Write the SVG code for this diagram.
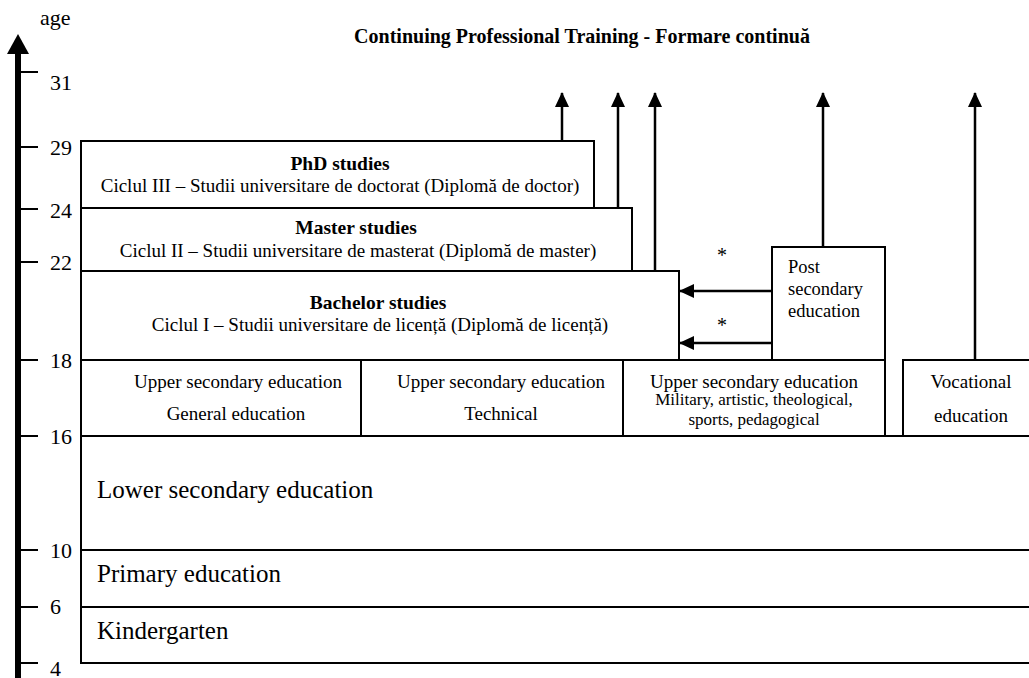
<svg xmlns="http://www.w3.org/2000/svg" width="1029" height="678" viewBox="0 0 1029 678" font-family="Liberation Serif, Times New Roman, DejaVu Serif, serif">
<style>
text{fill:#000}
.b{font-weight:bold}
.box{fill:none;stroke:#000;stroke-width:2}
.ln{stroke:#000;stroke-width:2.5;fill:none}
.tick{stroke:#000;stroke-width:2}
.num{font-size:22px}
.sub{font-size:19px}
.hd{font-size:19.5px;font-weight:bold}
.up{font-size:19px}
.small{font-size:17px}
.ps{font-size:18.5px}
.big{font-size:25px}
.mid{text-anchor:middle}
</style>
<defs>
<marker id="ah" viewBox="0 0 15 14" refX="14" refY="7" markerWidth="15" markerHeight="14" markerUnits="userSpaceOnUse" orient="auto">
<path d="M0,0 L15,7 L0,14 Z" fill="#000"/>
</marker>
</defs>

<g id="axis">
<line x1="18" y1="50" x2="18" y2="678" stroke="#000" stroke-width="6"/>
<path d="M7,54 L18,34 L29,54 Z" fill="#000"/>
<text x="40" y="25" font-size="22">age</text>
<g class="tick">
<line x1="21" y1="72" x2="38" y2="72"/>
<line x1="21" y1="147" x2="38" y2="147"/>
<line x1="21" y1="209" x2="38" y2="209"/>
<line x1="21" y1="262" x2="38" y2="262"/>
<line x1="21" y1="360" x2="38" y2="360"/>
<line x1="21" y1="436" x2="38" y2="436"/>
<line x1="21" y1="550" x2="38" y2="550"/>
<line x1="21" y1="607" x2="38" y2="607"/>
<line x1="21" y1="663" x2="38" y2="663"/>
</g>
<g class="num">
<text x="50" y="90">31</text>
<text x="50" y="155">29</text>
<text x="50" y="218">24</text>
<text x="50" y="270">22</text>
<text x="50" y="368">18</text>
<text x="50" y="444">16</text>
<text x="50" y="558">10</text>
<text x="50" y="614">6</text>
<text x="50" y="676">4</text>
</g>
</g>

<text class="b" x="582" y="43" font-size="20" text-anchor="middle">Continuing Professional Training - Formare continuă</text>

<g id="phd">
<rect class="box" x="81" y="141" width="513" height="67"/>
<text class="hd mid" x="340" y="170">PhD studies</text>
<text class="sub mid" x="340" y="192">Ciclul III – Studii universitare de doctorat (Diplomă de doctor)</text>
</g>
<g id="master">
<rect class="box" x="81" y="208" width="551" height="63"/>
<text class="hd mid" x="356" y="234">Master studies</text>
<text class="sub mid" x="358" y="257">Ciclul II – Studii universitare de masterat (Diplomă de master)</text>
</g>
<g id="bachelor">
<rect class="box" x="81" y="271" width="598" height="89"/>
<text class="hd mid" x="378" y="309">Bachelor studies</text>
<text class="sub mid" x="380" y="331">Ciclul I – Studii universitare de licență (Diplomă de licență)</text>
</g>
<g id="postsec">
<rect class="box" x="772" y="247" width="113" height="113"/>
<text class="ps" x="788" y="273">Post</text>
<text class="ps" x="788" y="295">secondary</text>
<text class="ps" x="788" y="317">education</text>
</g>
<g id="upper-general">
<rect class="box" x="81" y="360" width="280" height="76"/>
<text class="up mid" x="238" y="388">Upper secondary education</text>
<text class="up mid" x="236" y="420">General education</text>
</g>
<g id="upper-technical">
<rect class="box" x="361" y="360" width="262" height="76"/>
<text class="up mid" x="501" y="388">Upper secondary education</text>
<text class="up mid" x="501" y="420">Technical</text>
</g>
<g id="upper-other">
<rect class="box" x="623" y="360" width="262" height="76"/>
<text class="up mid" x="754" y="388">Upper secondary education</text>
<text class="small mid" x="754" y="405">Military, artistic, theological,</text>
<text class="small mid" x="754" y="425">sports, pedagogical</text>
</g>
<g id="vocational">
<rect class="box" x="903" y="360" width="131" height="76"/>
<text class="up mid" x="971" y="388">Vocational</text>
<text class="up mid" x="971" y="422">education</text>
</g>
<g id="lower">
<rect class="box" x="81" y="436" width="953" height="114"/>
<text class="big" x="97" y="498">Lower secondary education</text>
</g>
<g id="primary">
<rect class="box" x="81" y="550" width="953" height="57"/>
<text class="big" x="97" y="582">Primary education</text>
</g>
<g id="kindergarten">
<rect class="box" x="81" y="607" width="953" height="56"/>
<text class="big" x="97" y="639">Kindergarten</text>
</g>

<g id="connectors">
<line class="ln" x1="562" y1="141" x2="562" y2="93" marker-end="url(#ah)"/>
<line class="ln" x1="618" y1="208" x2="618" y2="93" marker-end="url(#ah)"/>
<line class="ln" x1="655" y1="271" x2="655" y2="93" marker-end="url(#ah)"/>
<line class="ln" x1="823" y1="247" x2="823" y2="93" marker-end="url(#ah)"/>
<line class="ln" x1="975" y1="360" x2="975" y2="93" marker-end="url(#ah)"/>
<line class="ln" x1="772" y1="291" x2="680" y2="291" marker-end="url(#ah)"/>
<line class="ln" x1="772" y1="343" x2="680" y2="343" marker-end="url(#ah)"/>
<text x="722" y="262" font-size="20" text-anchor="middle">*</text>
<text x="722" y="332" font-size="20" text-anchor="middle">*</text>
</g>
</svg>
